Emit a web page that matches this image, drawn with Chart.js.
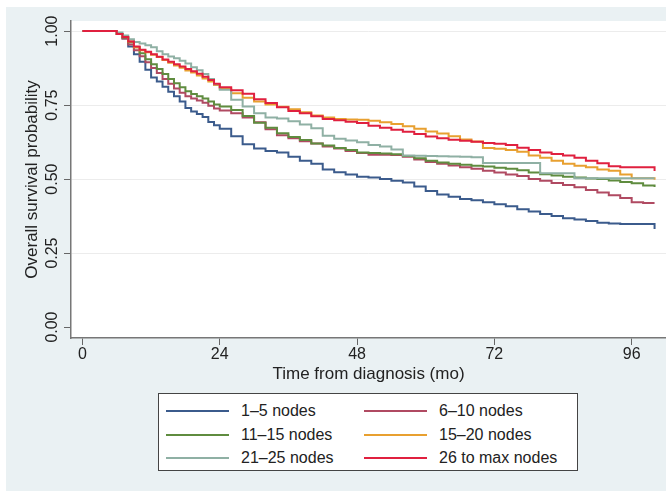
<!DOCTYPE html>
<html>
<head>
<meta charset="utf-8">
<script src="https://cdn.jsdelivr.net/npm/chart.js"></script>
<style>
  html, body { margin: 0; padding: 0; background: #fff; }
  #wrap { position: relative; width: 666px; height: 491px; overflow: hidden; }
  #bg { position: absolute; left: 6px; top: 7px; right: 0; bottom: 0; background: #eaf1f3; }
  canvas { position: absolute; left: 0; top: 0; }
  #legend {
    position: absolute; left: 158px; top: 393px; width: 420px; height: 78px;
    box-sizing: border-box; border: 1px solid #444; background: #fff;
  }
  .item { position: absolute; display: flex; align-items: center; height: 20px; transform: translateY(-50%); }
  .sw { display: inline-block; width: 63px; height: 2px; margin-right: 12px; }
  .tx { font: 16px "Liberation Sans", Arial, sans-serif; color: #222; white-space: nowrap; }
</style>
</head>
<body>
<div id="wrap">
  <div id="bg"></div>
  <canvas id="km" width="666" height="491"></canvas>
  <div id="legend"></div>
</div>
<script>
// months since diagnosis (shared time grid of the KM steps)
const months = [0, 6, 7, 8, 9, 10, 11, 12, 13, 14, 15, 16, 17, 18, 19, 20, 21, 22, 23, 24,
  26, 28, 30, 32, 34, 36, 38, 40, 42, 44, 46, 48, 50, 52, 54, 56, 58, 60, 62, 64,
  66, 68, 70, 72, 74, 76, 78, 80, 82, 84, 86, 88, 90, 92, 94, 96, 98, 100];

const nodes1to5 = [1, 0.99, 0.975, 0.948, 0.922, 0.896, 0.869, 0.843, 0.83, 0.812, 0.795, 0.78, 0.762, 0.74, 0.728, 0.72, 0.71, 0.693, 0.682, 0.67,
  0.645, 0.618, 0.603, 0.595, 0.59, 0.575, 0.562, 0.552, 0.532, 0.523,
  0.515, 0.508, 0.505, 0.5, 0.494, 0.488, 0.475, 0.46, 0.448, 0.44,
  0.433, 0.428, 0.422, 0.415, 0.408, 0.398, 0.39, 0.382, 0.375, 0.368,
  0.363, 0.358, 0.352, 0.35, 0.348, 0.348, 0.348, 0.331];

const nodes6to10 = [1, 0.99, 0.975, 0.955, 0.935, 0.915, 0.895, 0.875, 0.858, 0.838, 0.822, 0.806, 0.792, 0.78, 0.772, 0.765, 0.758, 0.748, 0.738, 0.732,
  0.722, 0.708, 0.692, 0.668, 0.648, 0.638, 0.628, 0.62, 0.61, 0.603,
  0.595, 0.588, 0.582, 0.582, 0.581, 0.575, 0.566, 0.558, 0.552, 0.546,
  0.54, 0.535, 0.528, 0.522, 0.515, 0.51, 0.5, 0.494, 0.487, 0.48,
  0.472, 0.463, 0.455, 0.445, 0.436, 0.422, 0.419, 0.419];

const nodes11to15 = [1, 0.99, 0.978, 0.962, 0.945, 0.925, 0.905, 0.888, 0.872, 0.855, 0.838, 0.824, 0.81, 0.797, 0.787, 0.78, 0.772, 0.762, 0.752, 0.745,
  0.733, 0.713, 0.69, 0.673, 0.655, 0.642, 0.632, 0.62, 0.613, 0.605,
  0.598, 0.59, 0.588, 0.586, 0.584, 0.578, 0.57, 0.562, 0.556, 0.552,
  0.548, 0.545, 0.542, 0.538, 0.535, 0.53, 0.522, 0.516, 0.512, 0.508,
  0.505, 0.502, 0.5, 0.495, 0.49, 0.486, 0.478, 0.473];

const nodes15to20 = [1, 0.99, 0.98, 0.965, 0.945, 0.935, 0.928, 0.92, 0.912, 0.902, 0.893, 0.884, 0.876, 0.867, 0.86, 0.85, 0.84, 0.83, 0.818, 0.806,
  0.79, 0.775, 0.762, 0.752, 0.744, 0.736, 0.726, 0.715, 0.708, 0.703,
  0.701, 0.7, 0.697, 0.692, 0.686, 0.678, 0.67, 0.661, 0.654, 0.645,
  0.634, 0.627, 0.605, 0.602, 0.598, 0.592, 0.58, 0.572, 0.562, 0.552,
  0.545, 0.54, 0.532, 0.528, 0.515, 0.503, 0.503, 0.498];

const nodes21to25 = [1, 0.995, 0.985, 0.972, 0.963, 0.958, 0.952, 0.945, 0.932, 0.922, 0.914, 0.908, 0.9, 0.89, 0.878, 0.868, 0.855, 0.838, 0.82, 0.802,
  0.768, 0.745, 0.722, 0.708, 0.705, 0.695, 0.684, 0.672, 0.646, 0.636,
  0.63, 0.624, 0.615, 0.61, 0.6, 0.58, 0.579, 0.578, 0.577, 0.576,
  0.575, 0.574, 0.554, 0.554, 0.554, 0.554, 0.554, 0.52, 0.52, 0.52,
  0.503, 0.503, 0.503, 0.503, 0.503, 0.503, 0.503, 0.503];

const nodes26toMax = [1, 0.99, 0.98, 0.965, 0.948, 0.937, 0.93, 0.922, 0.913, 0.904, 0.896, 0.888, 0.88, 0.872, 0.864, 0.856, 0.846, 0.835, 0.822, 0.81,
  0.8, 0.788, 0.77, 0.757, 0.743, 0.73, 0.722, 0.712, 0.703, 0.699,
  0.694, 0.689, 0.68, 0.673, 0.667, 0.66, 0.652, 0.644, 0.638, 0.633,
  0.629, 0.626, 0.622, 0.619, 0.615, 0.606, 0.598, 0.59, 0.585, 0.58,
  0.572, 0.562, 0.553, 0.543, 0.54, 0.54, 0.54, 0.527];

const seriesNames = ["1–5 nodes", "6–10 nodes", "11–15 nodes", "15–20 nodes", "21–25 nodes", "26 to max nodes"];
const seriesValues = [nodes1to5, nodes6to10, nodes11to15, nodes15to20, nodes21to25, nodes26toMax];
const colors = ["#3b5b8c", "#b04a62", "#5f8c3f", "#e8a030", "#8fb0a4", "#e0203f"];

const xTicks = [0, 24, 48, 72, 96];
const yTicks = [0, 0.25, 0.5, 0.75, 1];
const yTickLabels = ["0.00", "0.25", "0.50", "0.75", "1.00"];

const plotBg = {
  id: "plotBg",
  beforeDraw(chart) {
    const { ctx, chartArea: a } = chart;
    ctx.save();
    ctx.fillStyle = "#fff";
    ctx.fillRect(a.left, a.top, a.right - a.left, a.bottom - a.top);
    ctx.restore();
  }
};

const datasets = seriesValues.map((vals, i) => ({
  label: seriesNames[i],
  data: vals.map((v, j) => ({ x: months[j], y: v })),
  borderColor: colors[i],
  borderWidth: 2,
  pointRadius: 0,
  stepped: true,
  fill: false,
  order: seriesValues.length - i
}));

const tickFont = { family: "'Liberation Sans', Arial, sans-serif", size: 16 };
const titleFont = { family: "'Liberation Sans', Arial, sans-serif", size: 17 };

new Chart(document.getElementById("km"), {
  type: "line",
  data: { datasets },
  options: {
    responsive: false,
    animation: false,
    layout: { padding: { left: 6, top: 21, right: 0, bottom: 105 } },
    plugins: { legend: { display: false }, tooltip: { enabled: false } },
    scales: {
      x: {
        type: "linear",
        min: -2,
        max: 102,
        afterBuildTicks: (s) => { s.ticks = xTicks.map((v) => ({ value: v })); },
        afterFit: (s) => { s.height = 48; },
        grid: { drawOnChartArea: false, tickLength: 7, tickColor: "#666" },
        border: { color: "#777", width: 1.5 },
        ticks: { font: tickFont, color: "#222", padding: 0, maxRotation: 0 },
        title: { display: true, text: "Time from diagnosis (mo)", font: titleFont, color: "#222", padding: { top: 0, bottom: 1 } }
      },
      y: {
        min: -0.037,
        max: 1.034,
        afterBuildTicks: (s) => { s.ticks = yTicks.map((v) => ({ value: v })); },
        afterFit: (s) => { s.width = 65; },
        grid: {
          color: (c) => (c.tick && c.tick.value === 0 ? "rgba(0,0,0,0)" : "#ececec"),
          tickLength: 7,
          tickColor: "#666"
        },
        border: { color: "#777", width: 1.5 },
        ticks: {
          font: tickFont, color: "#222", minRotation: 90, maxRotation: 90,
          crossAlign: "center", padding: -4,
          callback: (v) => yTickLabels[yTicks.indexOf(v)]
        },
        title: { display: true, text: "Overall survival probability", font: titleFont, color: "#222", padding: { top: 16, bottom: 0 } }
      }
    }
  },
  plugins: [plotBg]
});

// legend box, two columns
const legend = document.getElementById("legend");
seriesNames.forEach((name, i) => {
  const item = document.createElement("div");
  item.className = "item";
  item.style.left = (i % 2 ? 205 : 7) + "px";
  item.style.top = (17 + Math.floor(i / 2) * 23.5) + "px";
  item.innerHTML = '<span class="sw" style="background:' + colors[i] + '"></span><span class="tx">' + name + "</span>";
  legend.appendChild(item);
});
</script>
</body>
</html>
